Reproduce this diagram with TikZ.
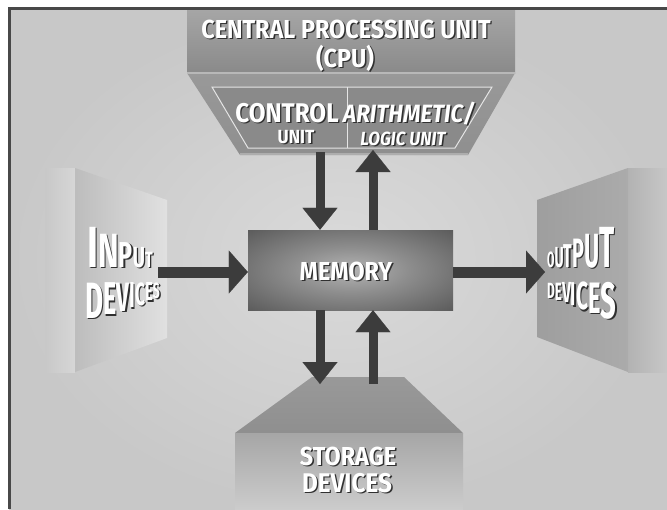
\documentclass[tikz,border=0pt]{standalone}
\usepackage{fontspec}
\setmainfont{Fira Sans}
\newfontfamily\lblfont{Fira Sans}[FakeStretch=0.9]
\usetikzlibrary{arrows.meta}
\definecolor{bgc}{HTML}{C8C8C8}
\definecolor{bgl}{HTML}{DADADA}
\definecolor{arr}{HTML}{3C3C3C}
\definecolor{frm}{HTML}{484848}
\definecolor{shd}{HTML}{303030}
\definecolor{memin}{HTML}{B4B4B4}
\definecolor{memmid}{HTML}{8E8E8E}
\definecolor{memout}{HTML}{3E3E3E}
\definecolor{memedge}{HTML}{303030}
\pgfdeclareradialshading{memsh}{\pgfpoint{0bp}{0bp}}{color(0bp)=(memin); color(14bp)=(memmid); color(48bp)=(memout); color(71bp)=(memedge)}
\newcommand\botlet[2]{{\fontsize{#1}{#1}\selectfont #2}}
\newcommand\toplet[2]{\raisebox{-0.689\dimexpr#1pt\relax}{\fontsize{#1}{#1}\selectfont #2}}
\newcommand\wInput{\scalebox{0.72}[1]{\botlet{58}{I}\botlet{48}{N}\botlet{36}{P}\botlet{29}{U}\botlet{22}{T}}}
\newcommand\wInDev{\scalebox{0.61}[1]{\toplet{51}{D}\toplet{46}{E}\toplet{41}{V}\toplet{36}{I}\toplet{32}{C}\toplet{26}{E}\toplet{22}{S}}}
\newcommand\wOutput{\scalebox{0.54}[1]{\botlet{22}{O}\botlet{29}{U}\botlet{33}{T}\botlet{41}{P}\botlet{48}{U}\botlet{58}{T}}}
\newcommand\wOutDev{\scalebox{0.6}[1]{\toplet{22}{D}\toplet{25}{E}\toplet{29}{V}\toplet{33}{I}\toplet{39}{C}\toplet{44}{E}\toplet{51}{S}}}
\newcommand\shtext[4]{%
  \node[lblsh,#3] at (#2) {#4};
  \node[lbl,#3] (#1) at (#2) {#4};}
\tikzset{
  lbl/.style={text=white, font=\lblfont\bfseries, inner sep=0pt, anchor=base},
  lblsh/.style={lbl, text=shd, xshift=1.4pt, yshift=-1.4pt},
  arrV/.style={draw=arr, line width=9pt, -{Triangle[width=35pt,length=22pt,line width=0.1pt]}},
  arrH/.style={draw=arr, line width=11pt, -{Triangle[width=43pt,length=19pt,line width=0.1pt]}},
}
\begin{document}
\begin{tikzpicture}[x=1pt,y=-1pt]
\useasboundingbox (0,0) rectangle (667,509);
\fill[white] (0,0) rectangle (667,509);
% background
\shade[inner color=bgl, outer color=bgc] (9,8) rectangle (667,509);
\draw[frm, line width=3pt] (9.5,509) -- (9.5,8.5) -- (667,8.5);
% ---------- CPU ----------
\shade[top color=black!35, bottom color=black!46] (187,10) rectangle (515,73);
\shade[top color=black!40, bottom color=black!44] (187,73) -- (515,73) -- (468,155) -- (240,155) -- cycle;
\draw[black!28, line width=1.2pt] (187,73) -- (515,73);
\draw[black!32, line width=1.5pt] (240,154) -- (468,154);
\fill[black!46] (212,87) -- (492,87) -- (455,148) -- (248,148) -- cycle;
\draw[black!10, line width=1pt] (212,87) -- (492,87) -- (455,148) -- (248,148) -- cycle;
\draw[black!10, line width=1pt] (347,87) -- (347,148);
% ---------- INPUT box ----------
\shade[left color=bgc, right color=black!16] (45,168) -- (75,168) -- (75,372) -- (45,372) -- cycle;
\shade[left color=black!26, right color=black!12] (75,168) -- (167,200) -- (167,338) -- (75,372) -- cycle;
% ---------- OUTPUT box ----------
\shade[left color=black!38, right color=black!33] (537,200) -- (628,168) -- (628,372) -- (537,337) -- cycle;
\shade[left color=black!30, right color=black!22] (628,168) -- (667,168) -- (667,372) -- (628,372) -- cycle;
% ---------- STORAGE box ----------
\shade[top color=black!40, bottom color=black!44] (312,377) -- (404,377) -- (463,433) -- (235,433) -- cycle;
\shade[top color=black!35, bottom color=black!20] (235,433) rectangle (463,509);
% ---------- MEMORY ----------
\node[inner sep=0pt, minimum width=205pt, minimum height=80pt, shading=memsh] (mem) at (350.5,270) {};
% ---------- connectors ----------
\coordinate (cpuIn) at (320,152);
\coordinate (cpuOut) at (373,150);
\coordinate (stoIn) at (320,384);
\coordinate (stoOut) at (373,384);
\coordinate (inS) at (158,272);
\coordinate (outE) at (545,272);
\draw[arrV] (cpuIn) -- (mem.north -| cpuIn);
\draw[arrV] (mem.north -| cpuOut) -- (cpuOut);
\draw[arrV] (mem.south -| stoIn) -- (stoIn);
\draw[arrV] (stoOut) -- (mem.south -| stoOut);
\draw[arrH] (inS) -- (mem.west |- inS);
\draw[arrH] (mem.east |- outE) -- (outE);
% ---------- texts ----------
\shtext{cpu1}{346,38}{font=\lblfont\bfseries\fontsize{26}{26}\selectfont}{CENTRAL PROCESSING UNIT}
\shtext{cpu2}{345,67}{font=\lblfont\bfseries\fontsize{26}{26}\selectfont}{(CPU)}
\shtext{cu1}{287,122}{font=\lblfont\bfseries\fontsize{27}{27}\selectfont}{CONTROL}
\shtext{cu2}{296,143}{font=\lblfont\bfseries\fontsize{19}{19}\selectfont}{UNIT}
\shtext{alu1}{409,122}{font=\lblfont\bfseries\itshape\fontsize{25}{25}\selectfont}{ARITHMETIC/}
\shtext{alu2}{403,145}{font=\lblfont\bfseries\itshape\fontsize{19}{19}\selectfont}{LOGIC UNIT}
\shtext{memt}{346,280}{font=\lblfont\bfseries\fontsize{26}{26}\selectfont}{MEMORY}
\shtext{sto1}{348,465}{font=\lblfont\bfseries\fontsize{26}{26}\selectfont}{STORAGE}
\shtext{sto2}{347,492}{font=\lblfont\bfseries\fontsize{27}{27}\selectfont}{DEVICES}
\shtext{in1}{87,267}{anchor=base west}{\wInput}
\shtext{in2}{85,283}{anchor=base west}{\wInDev}
\shtext{out1}{547,267}{anchor=base west}{\wOutput}
\shtext{out2}{547,283}{anchor=base west}{\wOutDev}
\end{tikzpicture}
\end{document}
